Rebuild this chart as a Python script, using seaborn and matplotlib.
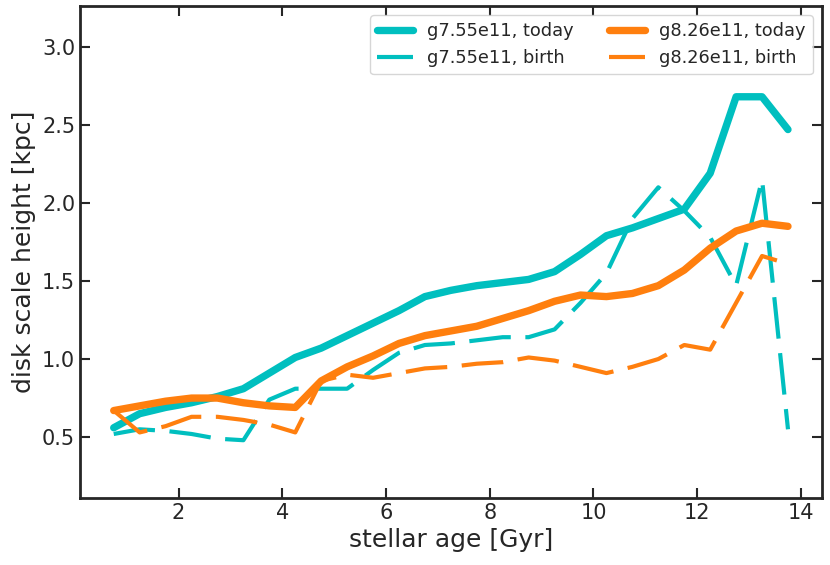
import matplotlib
matplotlib.use('Agg')
import matplotlib.pyplot as plt
import seaborn as sns

# stellar age bins [Gyr]
age = [0.75, 1.25, 1.75, 2.25, 2.75, 3.25, 3.75, 4.25, 4.75, 5.25, 5.75, 6.25, 6.75,
       7.25, 7.75, 8.25, 8.75, 9.25, 9.75, 10.25, 10.75, 11.25, 11.75, 12.25, 12.75,
       13.25, 13.75]

# disk scale height [kpc]
g755_today = [0.56, 0.65, 0.69, 0.72, 0.76, 0.81, 0.91, 1.01, 1.07, 1.15, 1.23, 1.31, 1.40,
              1.44, 1.47, 1.49, 1.51, 1.56, 1.67, 1.79, 1.84, 1.90, 1.96, 2.19, 2.68,
              2.68, 2.47]
g755_birth = [0.52, 0.55, 0.54, 0.52, 0.49, 0.48, 0.74, 0.81, 0.81, 0.81, 0.93, 1.04, 1.09,
              1.10, 1.12, 1.14, 1.14, 1.19, 1.36, 1.55, 1.90, 2.10, 1.95, 1.78, 1.47,
              2.15, 0.55]
g826_today = [0.67, 0.70, 0.73, 0.75, 0.75, 0.72, 0.70, 0.69, 0.86, 0.95, 1.02, 1.10, 1.15,
              1.18, 1.21, 1.26, 1.31, 1.37, 1.41, 1.40, 1.42, 1.47, 1.57, 1.71, 1.82,
              1.87, 1.85]
g826_birth = [0.67, 0.53, 0.57, 0.63, 0.63, 0.61, 0.58, 0.53, 0.86, 0.90, 0.88, 0.91, 0.94,
              0.95, 0.97, 0.98, 1.01, 0.99, 0.95, 0.91, 0.95, 1.00, 1.09, 1.06, 1.36,
              1.66, 1.61]

teal = '#00bfbf'
orange = '#ff7f0e'

sns.set_style('ticks')
plt.rcParams['font.family'] = ['DejaVu Sans']

fig = plt.figure(figsize=(8.3, 5.65), dpi=100)
ax = fig.add_axes([0.0964, 0.1186, 0.8936, 0.8704])

dash = (0, (10, 3.5))
sns.lineplot(x=age, y=g755_today, color=teal, lw=5.3, solid_capstyle='round',
             label='g7.55e11, today', ax=ax)
sns.lineplot(x=age, y=g755_birth, color=teal, lw=3, linestyle=dash,
             label='g7.55e11, birth', ax=ax)
sns.lineplot(x=age, y=g826_today, color=orange, lw=5.3, solid_capstyle='round',
             label='g8.26e11, today', ax=ax)
sns.lineplot(x=age, y=g826_birth, color=orange, lw=3, linestyle=dash,
             label='g8.26e11, birth', ax=ax)

ax.set_ylim(0.11, 3.26)
ax.set_xticks([2, 4, 6, 8, 10, 12, 14])
ax.set_yticks([0.5, 1.0, 1.5, 2.0, 2.5, 3.0])
ax.tick_params(direction='in', top=True, right=True, length=7, width=1.5, labelsize=15)
for s in ax.spines.values():
    s.set_linewidth(2)
ax.set_xlabel('stellar age [Gyr]', fontsize=18, labelpad=4)
ax.set_ylabel('disk scale height [kpc]', fontsize=18)
ax.legend(ncol=2, loc='upper right', fontsize=12.8)

fig.savefig('out.png', dpi=100)
